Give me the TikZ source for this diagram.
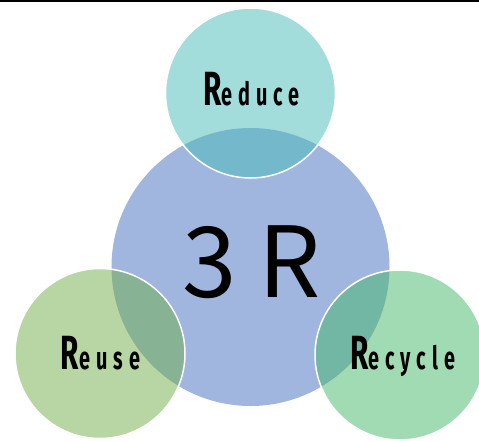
\documentclass[tikz,border=0pt]{standalone}
\usepackage{fontspec}
\usepackage{graphicx}
\newfontfamily\bigfont{Noto Sans CJK JP}
\newfontfamily\labfont[LetterSpace=30]{Fira Sans}
\definecolor{bigblue}{HTML}{A0B6DE}
\definecolor{tealc}{HTML}{47BDB9}
\definecolor{greenc}{HTML}{71AF4B}
\definecolor{mintc}{HTML}{45B969}
\newcommand\mylab[2]{{\labfont\bfseries\scalebox{0.62}[1]{\fontsize{48}{48}\selectfont #1}\scalebox{0.62}[1]{\fontsize{32}{32}\selectfont #2}}}
\tikzset{
  bigcirc/.style={circle, inner sep=0pt, minimum size=278pt, fill=bigblue},
  smallcirc/.style={circle, inner sep=0pt, minimum size=170pt, fill=#1, fill opacity=0.5, draw=white, draw opacity=1, line width=1.5pt},
  labtext/.style={anchor=base, inner sep=0pt, text=black},
}
\begin{document}
\begin{tikzpicture}[x=1pt,y=-1pt]
\useasboundingbox (0,0) rectangle (479,441);
\fill[white] (0,0) rectangle (479,441);
\fill[black] (0,0) rectangle (479,2.5);
\node[bigcirc] (core) at (250.5,267) {};
\node[smallcirc=tealc] (reduce) at (250.5,93) {};
\node[smallcirc=greenc] (reuse) at (100,353.5) {};
\node[smallcirc=mintc] (recycle) at (400,355) {};
\node[labtext] (t3r) at (252,297) {\bigfont\fontsize{98}{98}\selectfont 3 R};
\node[labtext] (treduce) at (251.5,106) {\mylab{R}{educe}};
\node[labtext] (treuse) at (100.5,369) {\mylab{R}{euse}};
\node[labtext] (trecycle) at (402.5,369) {\mylab{R}{ecycle}};
\end{tikzpicture}
\end{document}
